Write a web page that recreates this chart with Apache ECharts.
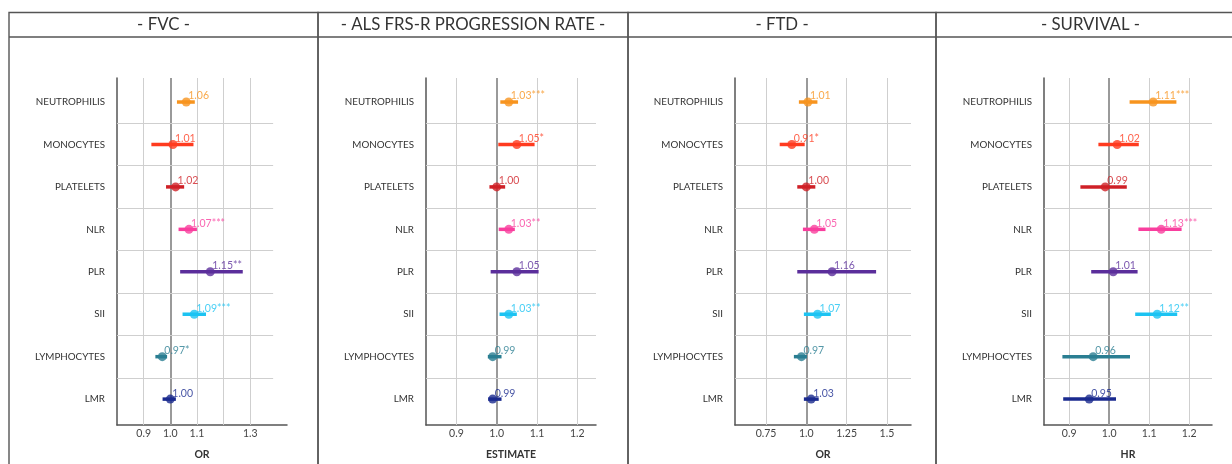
<!DOCTYPE html>
<html><head><meta charset="utf-8">
<script src="https://cdn.jsdelivr.net/npm/echarts@6/dist/echarts.min.js"></script>
<style>html,body{margin:0;padding:0;background:#fff}#chart{width:1232px;height:464px}</style>
</head><body><div id="chart"></div>
<script>
const categories = ['NEUTROPHILIS','MONOCYTES','PLATELETS','NLR','PLR','SII','LYMPHOCYTES','LMR'];
const panelTitles = ['- FVC -','- ALS FRS-R PROGRESSION RATE -','- FTD -','- SURVIVAL -'];
const axisNames = ['OR','ESTIMATE','OR','HR'];

const fvcEst  = [1.06, 1.01, 1.02, 1.07, 1.15, 1.09, 0.97, 1.00];
const fvcLow  = [1.025, 0.929, 0.984, 1.031, 1.037, 1.046, 0.944, 0.971];
const fvcHigh = [1.092, 1.087, 1.052, 1.100, 1.272, 1.134, 0.988, 1.021];
const fvcSig  = ['', '', '', '***', '**', '***', '*', ''];
const fvcTicks = [0.9, 1.0, 1.1, 1.2, 1.3];
const fvcTickLabels = ['0.9', '1.0', '1.1', '', '1.3'];

const alsEst  = [1.03, 1.05, 1.00, 1.03, 1.05, 1.03, 0.99, 0.99];
const alsLow  = [1.009, 1.004, 0.982, 1.005, 0.985, 1.007, 0.978, 0.979];
const alsHigh = [1.053, 1.094, 1.021, 1.045, 1.104, 1.050, 1.012, 1.012];
const alsSig  = ['***', '*', '', '**', '', '**', '', ''];
const alsTicks = [0.9, 1.0, 1.1, 1.2];
const alsTickLabels = ['0.9', '1.0', '1.1', '1.2'];

const ftdEst  = [1.01, 0.91, 1.00, 1.05, 1.16, 1.07, 0.97, 1.03];
const ftdLow  = [0.954, 0.835, 0.944, 0.979, 0.944, 0.985, 0.923, 0.985];
const ftdHigh = [1.069, 0.990, 1.056, 1.119, 1.433, 1.152, 1.004, 1.077];
const ftdSig  = ['', '*', '', '', '', '', '', ''];
const ftdTicks = [0.75, 1.0, 1.25, 1.5];
const ftdTickLabels = ['0.75', '1.0', '1.25', '1.5'];

const survEst  = [1.11, 1.02, 0.99, 1.13, 1.01, 1.12, 0.96, 0.95];
const survLow  = [1.051, 0.973, 0.928, 1.073, 0.955, 1.065, 0.883, 0.885];
const survHigh = [1.168, 1.074, 1.044, 1.181, 1.071, 1.170, 1.052, 1.017];
const survSig  = ['***', '', '', '***', '', '**', '', ''];
const survTicks = [0.9, 1.0, 1.1, 1.2];
const survTickLabels = ['0.9', '1.0', '1.1', '1.2'];

const rowColors = ['#f7941e','#ff3b1f','#cf2027','#f93e9e','#5b2e9b','#1cc3f2','#2a7e92','#1a2a8f'];
const FONT = 'Lato, "Open Sans", sans-serif';

const panels = [
  {est: fvcEst, low: fvcLow, high: fvcHigh, sig: fvcSig, ticks: fvcTicks, tickLabels: fvcTickLabels},
  {est: alsEst, low: alsLow, high: alsHigh, sig: alsSig, ticks: alsTicks, tickLabels: alsTickLabels},
  {est: ftdEst, low: ftdLow, high: ftdHigh, sig: ftdSig, ticks: ftdTicks, tickLabels: ftdTickLabels},
  {est: survEst, low: survLow, high: survHigh, sig: survSig, ticks: survTicks, tickLabels: survTickLabels}
];
const layout = [
  {box: [9, 318],    left: 117,  width: 170, min: 0.8,    max: 1.438,  rowEnd: 1.386},
  {box: [318, 628],  left: 426,  width: 170, min: 0.8246, max: 1.2464, rowEnd: 1.2464},
  {box: [628, 936],  left: 735,  width: 176, min: 0.5577, max: 1.6495, rowEnd: 1.6495},
  {box: [936, 1245], left: 1044, width: 168, min: 0.837,  max: 1.257,  rowEnd: 1.257}
];
const GRID_TOP = 78, GRID_H = 347, Y_MIN = -0.566, Y_MAX = 7.61;

const chart = echarts.init(document.getElementById('chart'), null, {renderer: 'canvas'});
const grid = [], xAxis = [], yAxis = [], series = [], graphic = [];

panels.forEach((p, k) => {
  const L = layout[k];
  grid.push({left: L.left, top: GRID_TOP, width: L.width, height: GRID_H, containLabel: false, outerBoundsMode: 'none'});
  xAxis.push({
    type: 'value', gridIndex: k, min: L.min, max: L.max,
    name: axisNames[k], nameLocation: 'middle', nameGap: 24,
    nameTextStyle: {fontFamily: FONT, fontWeight: 'bold', fontSize: 10.5, color: '#333'},
    axisLine: {show: true, onZero: false, lineStyle: {color: '#555', width: 1.5}},
    axisTick: {show: false},
    splitLine: {show: false},
    axisLabel: {
      customValues: p.ticks, margin: 3, fontFamily: FONT, fontSize: 10.5, color: '#444',
      formatter: v => { let bi = 0; p.ticks.forEach((t, i) => { if (Math.abs(t - v) < Math.abs(p.ticks[bi] - v)) bi = i; }); return p.tickLabels[bi]; }
    }
  });
  yAxis.push({
    type: 'value', gridIndex: k, inverse: true, min: Y_MIN, max: Y_MAX,
    axisLine: {show: true, onZero: false, lineStyle: {color: '#555', width: 1.5}},
    axisTick: {show: false},
    splitLine: {show: false},
    axisLabel: {
      customValues: categories.map((c, i) => i), margin: 12,
      fontFamily: FONT, fontSize: 9.8, color: '#333',
      formatter: v => categories[Math.round(v)]
    }
  });
  const gridLines = p.ticks.map(t => ({
    xAxis: t,
    lineStyle: t === 1 ? {color: '#9a9a9a', width: 2, type: 'solid'} : {color: '#cfcfcf', width: 1, type: 'solid'}
  }));
  const rowLines = categories.slice(1).map((c, i) => [
    {coord: [L.min, i + 0.5], lineStyle: {color: '#cfcfcf', width: 1, type: 'solid'}},
    {coord: [L.rowEnd, i + 0.5]}
  ]);
  series.push({
    type: 'custom', xAxisIndex: k, yAxisIndex: k, z: 3, silent: true,
    data: categories.map((c, i) => [p.low[i], p.high[i], i]),
    encode: {x: [0, 1], y: 2},
    renderItem: (params, api) => {
      const a = api.coord([api.value(0), api.value(2)]);
      const b = api.coord([api.value(1), api.value(2)]);
      return {type: 'line', shape: {x1: a[0], y1: a[1], x2: b[0], y2: b[1]},
        style: {stroke: rowColors[api.value(2)], lineWidth: 3.5}};
    },
    markLine: {silent: true, z: 1, symbol: 'none', animation: false, label: {show: false},
      data: gridLines.concat(rowLines)}
  });
  series.push({
    type: 'scatter', xAxisIndex: k, yAxisIndex: k, z: 4, silent: true, symbolSize: 9,
    data: categories.map((c, i) => ({
      value: [p.est[i], i],
      itemStyle: {color: rowColors[i]},
      label: {color: rowColors[i]},
      txt: p.est[i].toFixed(2) + p.sig[i]
    })),
    label: {
      show: true, position: [6.5, -1.5], align: 'left', verticalAlign: 'middle',
      fontFamily: FONT, fontSize: 10.5,
      formatter: q => q.data.txt
    }
  });
  const x0 = L.box[0], x1 = L.box[1];
  graphic.push({type: 'rect', silent: true, shape: {x: x0, y: 12.5, width: x1 - x0, height: 470}, style: {fill: 'none', stroke: '#555', lineWidth: 1.4}});
  graphic.push({type: 'line', silent: true, shape: {x1: x0, y1: 37, x2: x1, y2: 37}, style: {stroke: '#555', lineWidth: 1.4}});
  graphic.push({type: 'text', silent: true, x: (x0 + x1) / 2, y: 25,
    style: {text: panelTitles[k], fill: '#333', font: '16.8px ' + FONT, textAlign: 'center', textVerticalAlign: 'middle'}});
});

chart.setOption({animation: false, backgroundColor: '#fff', grid, xAxis, yAxis, series, graphic});
</script></body></html>
